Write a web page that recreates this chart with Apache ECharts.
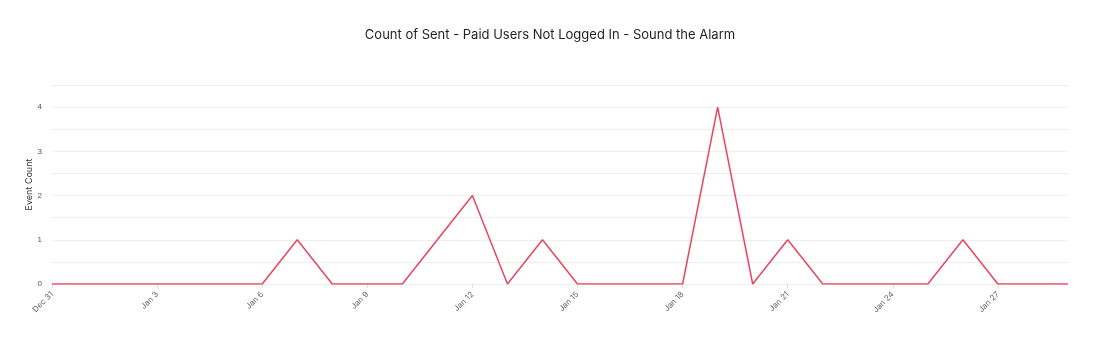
<!DOCTYPE html>
<html><head><meta charset="utf-8">
<script src="https://cdn.jsdelivr.net/npm/echarts@6/dist/echarts.min.js"></script>
<style>html,body{margin:0;padding:0;background:#fff}#c{width:1100px;height:350px}</style>
</head><body><div id="c"></div>
<script>
const categories = ["Dec 31","Jan 1","Jan 2","Jan 3","Jan 4","Jan 5","Jan 6","Jan 7","Jan 8","Jan 9","Jan 10","Jan 11","Jan 12","Jan 13","Jan 14","Jan 15","Jan 16","Jan 17","Jan 18","Jan 19","Jan 20","Jan 21","Jan 22","Jan 23","Jan 24","Jan 25","Jan 26","Jan 27","Jan 28","Jan 29"];
const eventCount = [0,0,0,0,0,0,0,1,0,0,0,1,2,0,1,0,0,0,0,4,0,1,0,0,0,0,1,0,0,0];
const titleText = "Count of Sent - Paid Users Not Logged In - Sound the Alarm";
const yName = "Event Count";

const chart = echarts.init(document.getElementById('c'));
chart.setOption({
  animation:false,
  title:{text:titleText,left:'center',top:24,textStyle:{fontFamily:'Inter, Lato, sans-serif',fontSize:13,fontWeight:'normal',color:'#1f1f28'}},
  grid:{left:52,right:32,top:85,bottom:66},
  xAxis:{type:'category',data:categories,boundaryGap:false,
    axisLine:{show:false},
    axisTick:{show:true,interval:2,length:4,lineStyle:{color:'#ddd'}},
    axisLabel:{interval:2,rotate:45,fontSize:8,color:'#666',fontFamily:'Inter, sans-serif',margin:9}},
  yAxis:{type:'value',min:0,max:4.5,interval:0.5,name:yName,nameLocation:'middle',nameGap:18,nameMoveOverlap:false,
    nameTextStyle:{fontSize:9,color:'#333',fontFamily:'Inter, sans-serif'},
    axisLabel:{fontSize:8,color:'#555',margin:10,formatter:v=>Number.isInteger(v)?String(v):''},
    splitLine:{lineStyle:{color:'#eee'}}},
  series:[{type:'line',data:eventCount,symbol:'none',lineStyle:{color:'#e8465e',width:1.5},itemStyle:{color:'#e8465e'}}]
});
</script></body></html>
